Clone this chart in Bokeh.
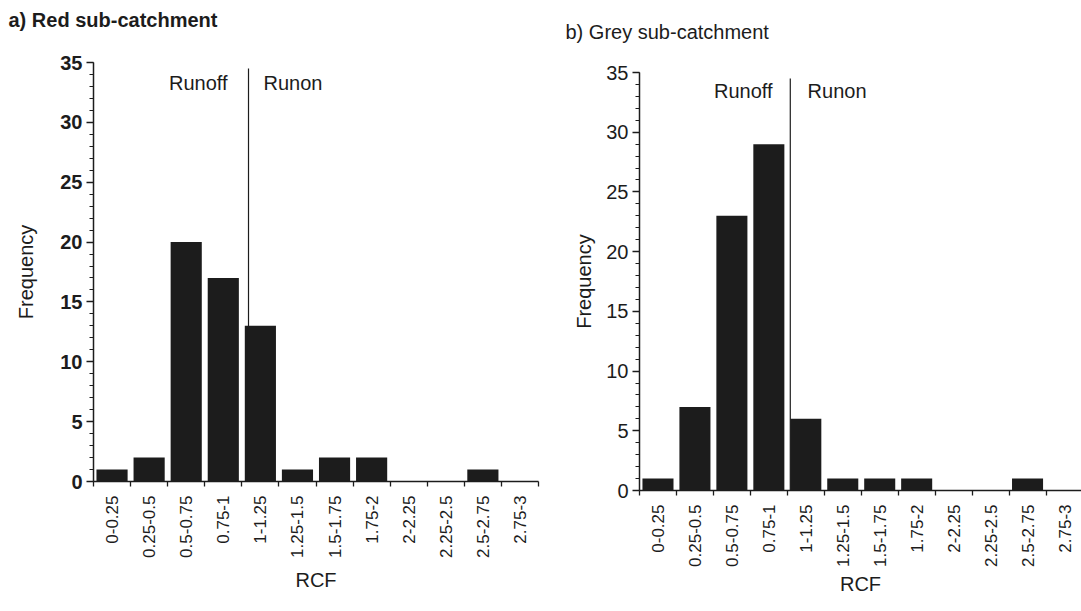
import math
from bokeh.plotting import figure
from bokeh.layouts import row, column
from bokeh.models import (Range1d, FixedTicker, SingleIntervalTicker, Label,
                          ColumnDataSource, Title, Spacer)
from bokeh.embed import file_html
from bokeh.resources import INLINE

# ---- data ----
bin_labels = ["0-0.25", "0.25-0.5", "0.5-0.75", "0.75-1", "1-1.25", "1.25-1.5",
              "1.5-1.75", "1.75-2", "2-2.25", "2.25-2.5", "2.5-2.75", "2.75-3"]
bin_starts = [0.0, 0.25, 0.5, 0.75, 1.0, 1.25, 1.5, 1.75, 2.0, 2.25, 2.5, 2.75]
bin_width = 0.25
red_freq = [1, 2, 20, 17, 13, 1, 2, 2, 0, 0, 1, 0]
grey_freq = [1, 7, 23, 29, 6, 1, 1, 1, 0, 0, 1, 0]
runoff_runon_boundary = 1.0

FONT = "Liberation Sans"
INK = "#1c1c1c"


def make_panel(title, freq, width, height, border_left, border_right, border_top,
               border_bottom, x_end, line_x, title_offset, spacer_px,
               runoff_x, runon_x, label_y, title_bold, ylab_standoff, xlab_standoff,
               tick_bold):
    centers = [s + bin_width / 2 for s in bin_starts]
    edges = bin_starts + [bin_starts[-1] + bin_width]
    p = figure(width=width, height=height, output_backend="svg", toolbar_location=None,
               x_range=Range1d(0, x_end), y_range=Range1d(0, 35),
               min_border_left=border_left, min_border_right=border_right,
               min_border_top=border_top, min_border_bottom=border_bottom)
    p.outline_line_color = None
    p.grid.visible = False
    p.background_fill_color = "white"
    p.border_fill_color = "white"

    # spacer title (closest to frame) pushes the real title upward
    p.add_layout(Title(text=" ", text_font_size=f"{spacer_px}px", standoff=0), "above")
    p.add_layout(Title(text=title, text_font=FONT, text_font_size="20px",
                       text_font_style="bold" if title_bold else "normal",
                       text_color=INK, align="left", offset=title_offset), "above")

    src = ColumnDataSource(dict(x=centers, top=freq))
    p.vbar(x="x", top="top", bottom=0, width=bin_width * 0.84, source=src,
           fill_color=INK, line_color=None)

    # runoff / runon divider
    p.line(x=[line_x, line_x], y=[0, 34.5], line_color=INK, line_width=1.2)

    # x axis
    xa = p.xaxis[0]
    xa.ticker = FixedTicker(ticks=centers, minor_ticks=edges)
    xa.major_label_overrides = {c: lab for c, lab in zip(centers, bin_labels)}
    xa.major_label_orientation = math.pi / 2
    xa.major_tick_line_color = None
    xa.major_tick_out = 5
    xa.major_tick_in = 0
    xa.minor_tick_out = 5
    xa.minor_tick_in = 0
    xa.minor_tick_line_color = INK
    xa.minor_tick_line_width = 1.3
    xa.major_label_standoff = 9
    xa.major_label_text_font = FONT
    xa.major_label_text_font_size = "17px"
    xa.major_label_text_color = INK
    xa.axis_line_color = INK
    xa.axis_line_width = 1.5
    xa.axis_label = "RCF"
    xa.axis_label_text_font = FONT
    xa.axis_label_text_font_size = "20px"
    xa.axis_label_text_font_style = "normal"
    xa.axis_label_text_color = INK
    xa.axis_label_standoff = xlab_standoff

    # y axis
    ya = p.yaxis[0]
    ya.ticker = SingleIntervalTicker(interval=5, num_minor_ticks=5)
    ya.major_tick_out = 7
    ya.major_tick_in = 0
    ya.minor_tick_out = 4
    ya.minor_tick_in = 0
    ya.major_tick_line_color = INK
    ya.minor_tick_line_color = INK
    ya.major_tick_line_width = 1.3
    ya.minor_tick_line_width = 1.1
    ya.axis_line_color = INK
    ya.axis_line_width = 1.5
    ya.major_label_standoff = 4
    ya.major_label_text_font = FONT
    ya.major_label_text_font_size = "20px"
    ya.major_label_text_font_style = "bold" if tick_bold else "normal"
    ya.major_label_text_color = INK
    ya.axis_label = "Frequency"
    ya.axis_label_text_font = FONT
    ya.axis_label_text_font_size = "20px"
    ya.axis_label_text_font_style = "normal"
    ya.axis_label_text_color = INK
    ya.axis_label_standoff = ylab_standoff

    p.add_layout(Label(x=runoff_x, y=label_y, text="Runoff", text_font=FONT,
                       text_font_size="20px", text_color=INK,
                       text_align="right", text_baseline="middle"))
    p.add_layout(Label(x=runon_x, y=label_y, text="Runon", text_font=FONT,
                       text_font_size="20px", text_color=INK,
                       text_align="left", text_baseline="middle"))
    return p


p1 = make_panel("a) Red sub-catchment", red_freq, 540, 611, 93, 2, 62, 130, 3.0,
                runoff_runon_boundary + 0.045, -85, 22, 0.904, 1.146, 33.25,
                True, 20, 8, True)
p2 = make_panel("b) Grey sub-catchment", grey_freq, 541, 603, 99, 0, 64, 121, 2.99,
                runoff_runon_boundary + 0.02, -74, 21, 0.90, 1.137, 33.49,
                False, 8, 3, False)

layout = row(p1, column(Spacer(width=541, height=8), p2))
open("out.html", "w").write(file_html(layout, INLINE))
